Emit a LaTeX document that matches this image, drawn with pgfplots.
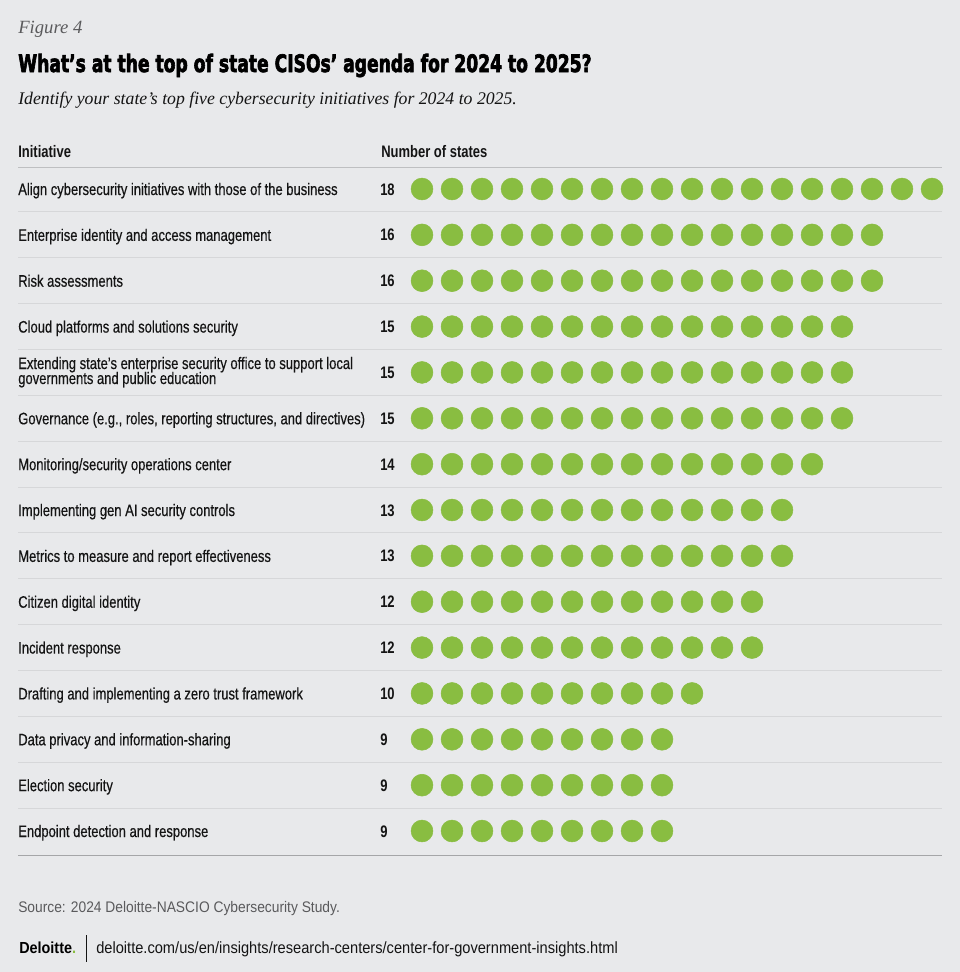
\documentclass[border=0pt]{standalone}
\usepackage{pgfplots}
\pgfplotsset{compat=1.18}
\usepackage{fontspec}
\usepackage{graphicx}
\setmainfont{Liberation Sans}[FakeStretch=0.78, UprightFeatures={FakeBold=0.4}]
\newfontfamily\footfont{Liberation Sans}[FakeStretch=0.9]
\newfontfamily\serifit{Liberation Serif}
\newfontfamily\titlefont{DejaVu Sans Condensed}[BoldFeatures={FakeBold=3}]

\definecolor{bg}{RGB}{232,233,235}
\definecolor{dotgreen}{RGB}{137,189,65}
\definecolor{rulelight}{RGB}{214,215,217}
\definecolor{rulemid}{RGB}{190,191,193}
\definecolor{ruledark}{RGB}{165,166,168}
\definecolor{ink}{RGB}{20,20,20}
\definecolor{muted}{RGB}{90,90,92}

\begin{document}
\begin{tikzpicture}
% pixel grid of the reference: 1px = 0.75pt, y runs downwards
\begin{scope}[x=0.75pt, y=-0.75pt]
  \fill[bg] (0,0) rectangle (960,972);
  \node[anchor=base west, inner sep=0] at (18,33)
    {\color{muted}\serifit\itshape\fontsize{14}{16}\selectfont Figure 4};
  \node[anchor=base west, inner sep=0] at (18,72)
    {\resizebox{430pt}{\height}{\color{black}\titlefont\bfseries\fontsize{18}{20}\selectfont What’s at the top of state CISOs’ agenda for 2024 to 2025?}};
  \node[anchor=base west, inner sep=0] at (18,104)
    {\color{ink}\serifit\itshape\fontsize{13.3}{15}\selectfont Identify your state’s top five cybersecurity initiatives for 2024 to 2025.};
  % header
  \node[anchor=base west, inner sep=0] at (18,157)
    {\color{ink}\bfseries\fontsize{12.5}{14}\selectfont Initiative};
  \node[anchor=base west, inner sep=0] at (381,157)
    {\color{ink}\bfseries\fontsize{12.5}{14}\selectfont Number of states};
  \draw[rulemid, line width=0.75pt] (18,167) -- (942,167);
  % row separators
  \foreach \r in {1,...,14}
    \draw[rulelight, line width=0.75pt] (18,{189+45.857*(\r-0.5)}) -- (942,{189+45.857*(\r-0.5)});
  \draw[ruledark, line width=0.75pt] (18,855) -- (942,855);
  % row labels and counts
  \foreach \lab/\n [count=\r] in {
      {Align cybersecurity initiatives with those of the business}/18,
      {Enterprise identity and access management}/16,
      {Risk assessments}/16,
      {Cloud platforms and solutions security}/15,
      {}/15,
      {Governance (e.g., roles, reporting structures, and directives)}/15,
      {Monitoring/security operations center}/14,
      {Implementing gen AI security controls}/13,
      {Metrics to measure and report effectiveness}/13,
      {Citizen digital identity}/12,
      {Incident response}/12,
      {Drafting and implementing a zero trust framework}/10,
      {Data privacy and information-sharing}/9,
      {Election security}/9,
      {Endpoint detection and response}/9} {
    \node[anchor=base west, inner sep=0] at (18,{189+45.857*(\r-1)+6})
      {\color{ink}\fontsize{12.5}{14}\selectfont \lab};
    \node[anchor=base west, inner sep=0] at (380,{189+45.857*(\r-1)+6})
      {\color{ink}\bfseries\fontsize{12.5}{14}\selectfont \n};
  }
  \node[anchor=base west, inner sep=0] at (18,369)
    {\color{ink}\fontsize{12.5}{14}\selectfont Extending state’s enterprise security office to support local};
  \node[anchor=base west, inner sep=0] at (18,384)
    {\color{ink}\fontsize{12.5}{14}\selectfont governments and public education};
  % source and footer
  \node[anchor=base west, inner sep=0] at (18,912)
    {\color{muted}\footfont\fontsize{11.5}{13}\selectfont Source: 2024 Deloitte-NASCIO Cybersecurity Study.};
  \node[anchor=base west, inner sep=0] at (19,953)
    {\color{black}\footfont\bfseries\fontsize{12}{13}\selectfont Deloitte\textcolor{dotgreen}{.}};
  \draw[ink, line width=0.75pt] (86,935) -- (86,962);
  \node[anchor=base west, inner sep=0] at (96,953)
    {\color{ink}\footfont\fontsize{12.2}{14}\selectfont deloitte.com/us/en/insights/research-centers/center-for-government-insights.html};
\end{scope}

\begin{axis}[
    at={(0pt,0pt)}, anchor=north west,
    scale only axis, width=720pt, height=729pt,
    xmin=-13.0667, xmax=18.9333,
    ymin=-3.1215, ymax=18.0748, y dir=reverse,
    hide axis, clip=false
]
% one dot per state: x = dot index, y = initiative row
\addplot[dotgreen, only marks, mark=*, mark size=8.2pt,
         mark options={draw=dotgreen, fill=dotgreen}] coordinates {
  (1,1)(2,1)(3,1)(4,1)(5,1)(6,1)(7,1)(8,1)(9,1)(10,1)(11,1)(12,1)(13,1)(14,1)(15,1)(16,1)(17,1)(18,1)
  (1,2)(2,2)(3,2)(4,2)(5,2)(6,2)(7,2)(8,2)(9,2)(10,2)(11,2)(12,2)(13,2)(14,2)(15,2)(16,2)
  (1,3)(2,3)(3,3)(4,3)(5,3)(6,3)(7,3)(8,3)(9,3)(10,3)(11,3)(12,3)(13,3)(14,3)(15,3)(16,3)
  (1,4)(2,4)(3,4)(4,4)(5,4)(6,4)(7,4)(8,4)(9,4)(10,4)(11,4)(12,4)(13,4)(14,4)(15,4)
  (1,5)(2,5)(3,5)(4,5)(5,5)(6,5)(7,5)(8,5)(9,5)(10,5)(11,5)(12,5)(13,5)(14,5)(15,5)
  (1,6)(2,6)(3,6)(4,6)(5,6)(6,6)(7,6)(8,6)(9,6)(10,6)(11,6)(12,6)(13,6)(14,6)(15,6)
  (1,7)(2,7)(3,7)(4,7)(5,7)(6,7)(7,7)(8,7)(9,7)(10,7)(11,7)(12,7)(13,7)(14,7)
  (1,8)(2,8)(3,8)(4,8)(5,8)(6,8)(7,8)(8,8)(9,8)(10,8)(11,8)(12,8)(13,8)
  (1,9)(2,9)(3,9)(4,9)(5,9)(6,9)(7,9)(8,9)(9,9)(10,9)(11,9)(12,9)(13,9)
  (1,10)(2,10)(3,10)(4,10)(5,10)(6,10)(7,10)(8,10)(9,10)(10,10)(11,10)(12,10)
  (1,11)(2,11)(3,11)(4,11)(5,11)(6,11)(7,11)(8,11)(9,11)(10,11)(11,11)(12,11)
  (1,12)(2,12)(3,12)(4,12)(5,12)(6,12)(7,12)(8,12)(9,12)(10,12)
  (1,13)(2,13)(3,13)(4,13)(5,13)(6,13)(7,13)(8,13)(9,13)
  (1,14)(2,14)(3,14)(4,14)(5,14)(6,14)(7,14)(8,14)(9,14)
  (1,15)(2,15)(3,15)(4,15)(5,15)(6,15)(7,15)(8,15)(9,15)
};
\end{axis}
\end{tikzpicture}
\end{document}
